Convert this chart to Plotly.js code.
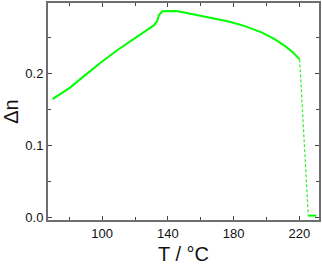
<!DOCTYPE html>
<html><head><meta charset="utf-8">
<script src="https://cdn.plot.ly/plotly-3.0.1.min.js"></script>
<style>html,body{margin:0;padding:0;background:#fff}#c{width:322px;height:270px}</style>
</head><body><div id="c"></div>
<script>
// nematic range
const tempNem = [69.8, 75, 80.4, 90, 98.8, 110, 119.2, 127.3, 131.4, 133.5, 134.5, 136.5, 140, 145, 150, 156.5, 165, 177, 187, 197.4, 205, 211.6, 216, 220.2];
const dnNem   = [0.164, 0.1718, 0.180, 0.198, 0.214, 0.233, 0.247, 0.260, 0.266, 0.272, 0.280, 0.2855, 0.286, 0.2858, 0.284, 0.281, 0.2775, 0.2715, 0.265, 0.256, 0.247, 0.237, 0.229, 0.219];
// transition (dashed)
const tempTrans = [220.2, 225.5];
const dnTrans   = [0.219, 0.003];
// isotropic
const tempIso = [225.5, 230.4];
const dnIso   = [0.003, 0.003];

const green = '#00ff00';
const traces = [
  {x: tempNem, y: dnNem, mode: 'lines', line: {color: green, width: 2}},
  {x: tempTrans, y: dnTrans, mode: 'lines', line: {color: '#33ee33', width: 1.2, dash: '3px,2px'}},
  {x: tempIso, y: dnIso, mode: 'lines', line: {color: green, width: 2}}
];
const ax = {
  showline: true, mirror: 'ticks', linecolor: '#6e6e6e', linewidth: 2,
  ticks: 'inside', ticklen: 4, tickwidth: 1, tickcolor: '#444',
  showgrid: false, zeroline: false,
  tickfont: {family: 'Liberation Sans, Arial, sans-serif', size: 13, color: '#111'},
};
const layout = {
  width: 322, height: 270,
  margin: {l: 48, r: 3, t: 3, b: 50},
  paper_bgcolor: '#fff', plot_bgcolor: '#fff',
  showlegend: false,
  xaxis: Object.assign({}, ax, {
    range: [67, 232], tickvals: [100, 140, 180, 220],
    minor: {tickvals: [80, 120, 160, 200], ticks: 'inside', ticklen: 3, tickcolor: '#444'},
    title: {text: 'T / °C', font: {family: 'Liberation Sans, Arial, sans-serif', size: 20, color: '#111'}, standoff: 7}
  }),
  yaxis: Object.assign({}, ax, {
    range: [-0.003, 0.297], tickvals: [0, 0.1, 0.2], ticktext: ['0.0', '0.1', '0.2'],
    minor: {tickvals: [0.05, 0.15, 0.25], ticks: 'inside', ticklen: 3, tickcolor: '#444'},
    title: {text: 'Δn', font: {family: 'Liberation Sans, Arial, sans-serif', size: 20, color: '#111'}, standoff: 6}
  })
};
Plotly.newPlot('c', traces, layout, {staticPlot: true});
</script></body></html>
